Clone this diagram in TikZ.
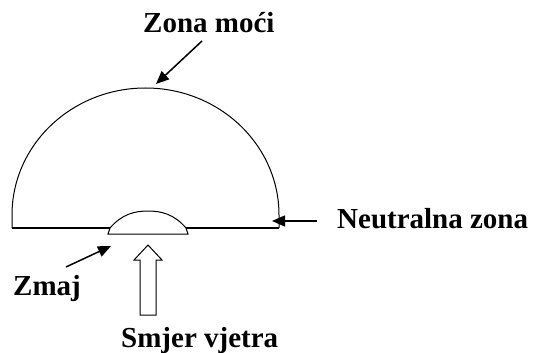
\documentclass[tikz,border=0pt]{standalone}
\usepackage{fontspec}
\setmainfont{Liberation Serif}
\usetikzlibrary{arrows.meta}
\tikzset{
  lbl/.style={font=\fontsize{29}{32}\selectfont\bfseries, inner sep=0pt, anchor=base west},
  outline/.style={line width=1pt, draw=black},
  arr/.style={-{Triangle[length=13pt,width=11pt]}, line width=1.5pt},
}
\begin{document}
\begin{tikzpicture}[x=1pt,y=-1pt]
  \useasboundingbox (0,0) rectangle (533,353);
  % big zone and baseline
  \draw[outline] (12,228) -- (12,215) arc[start angle=180, end angle=360, x radius=133.5, y radius=127] -- (279,228);
  \draw[outline, line width=1.3pt] (12,228) -- (279,228);
  % kite
  \draw[outline, fill=white] (108,234) -- (110,228) .. controls (122,214) and (135,211) .. (148,211)
    .. controls (161,211) and (174,214) .. (186,228) -- (188,234) -- cycle;
  % wind direction
  \draw[outline] (140,315) -- (140,260) -- (134,260) -- (148,245) -- (162,260) -- (156,260) -- (156,315) -- cycle;
  % labels
  \node[lbl] (moc) at (143,33) {Zona moći};
  \node[lbl] (neu) at (337,228) {Neutralna zona};
  \node[lbl] (zmaj) at (13,295) {Zmaj};
  \node[lbl] (smjer) at (121,347) {Smjer vjetra};
  \coordinate (moctail) at (202,41);
  \coordinate (moctip) at (156,84);
  \coordinate (neutail) at (317,221);
  \coordinate (neutip) at (272,221);
  \coordinate (zmajtail) at (66,267);
  \coordinate (zmajtip) at (111,246);
  \draw[arr] (moctail) -- (moctip);
  \draw[arr] (neutail) -- (neutip);
  \draw[arr] (zmajtail) -- (zmajtip);
\end{tikzpicture}
\end{document}
